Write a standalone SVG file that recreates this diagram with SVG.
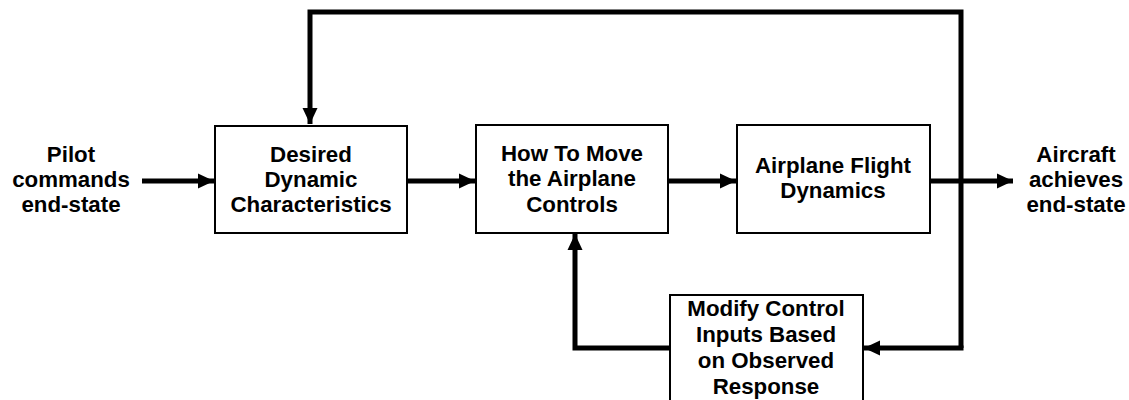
<svg xmlns="http://www.w3.org/2000/svg" width="1129" height="400" viewBox="0 0 1129 400">
  <style>
    .box { fill: #ffffff; stroke: #000000; stroke-width: 2; }
    .lbl { font-family: "Liberation Sans", Arial, sans-serif; font-weight: bold; font-size: 22.3px; fill: #000000; text-anchor: middle; }
    .wire { fill: none; stroke: #000000; stroke-width: 5; stroke-linejoin: miter; stroke-linecap: butt; }
  </style>
  <defs>
    <marker id="head" markerUnits="userSpaceOnUse" markerWidth="17" markerHeight="16" refX="16" refY="8" orient="auto">
      <path d="M0,0.5 L16,8 L0,15.5 Z" fill="#000000"/>
    </marker>
  </defs>

  <!-- connectors -->
  <g id="connectors">
    <line class="wire" x1="142" y1="181" x2="214" y2="181" marker-end="url(#head)"/>
    <line class="wire" x1="407" y1="181" x2="475" y2="181" marker-end="url(#head)"/>
    <line class="wire" x1="668" y1="181" x2="736" y2="181" marker-end="url(#head)"/>
    <line class="wire" x1="930" y1="181" x2="1013" y2="181" marker-end="url(#head)"/>
    <!-- outer loop back to the desired characteristics -->
    <polyline class="wire" points="961,348 961,12 310,12 310,124" marker-end="url(#head)"/>
    <!-- observed response feed -->
    <line class="wire" x1="963.5" y1="348" x2="864" y2="348" marker-end="url(#head)"/>
    <!-- inner loop back to the controls -->
    <polyline class="wire" points="670,348 575,348 575,234" marker-end="url(#head)"/>
  </g>

  <g id="pilot">
    <text class="lbl" x="71" y="162">Pilot</text>
    <text class="lbl" x="71" y="187">commands</text>
    <text class="lbl" x="71" y="212">end-state</text>
  </g>

  <g id="desired">
    <rect class="box" x="215" y="126" width="192" height="107"/>
    <text class="lbl" x="311" y="162">Desired</text>
    <text class="lbl" x="311" y="187">Dynamic</text>
    <text class="lbl" x="311" y="212">Characteristics</text>
  </g>

  <g id="controls">
    <rect class="box" x="476" y="125" width="192" height="108"/>
    <text class="lbl" x="572" y="161">How To Move</text>
    <text class="lbl" x="572" y="186">the Airplane</text>
    <text class="lbl" x="572" y="212">Controls</text>
  </g>

  <g id="flight">
    <rect class="box" x="737" y="125" width="193" height="108"/>
    <text class="lbl" x="833" y="173">Airplane Flight</text>
    <text class="lbl" x="833" y="198">Dynamics</text>
  </g>

  <g id="aircraft">
    <text class="lbl" x="1076" y="162">Aircraft</text>
    <text class="lbl" x="1076" y="187">achieves</text>
    <text class="lbl" x="1076" y="212">end-state</text>
  </g>

  <g id="modify">
    <rect class="box" x="670" y="295" width="193" height="110"/>
    <text class="lbl" x="766" y="316">Modify Control</text>
    <text class="lbl" x="766" y="342">Inputs Based</text>
    <text class="lbl" x="766" y="368">on Observed</text>
    <text class="lbl" x="766" y="394">Response</text>
  </g>
</svg>
